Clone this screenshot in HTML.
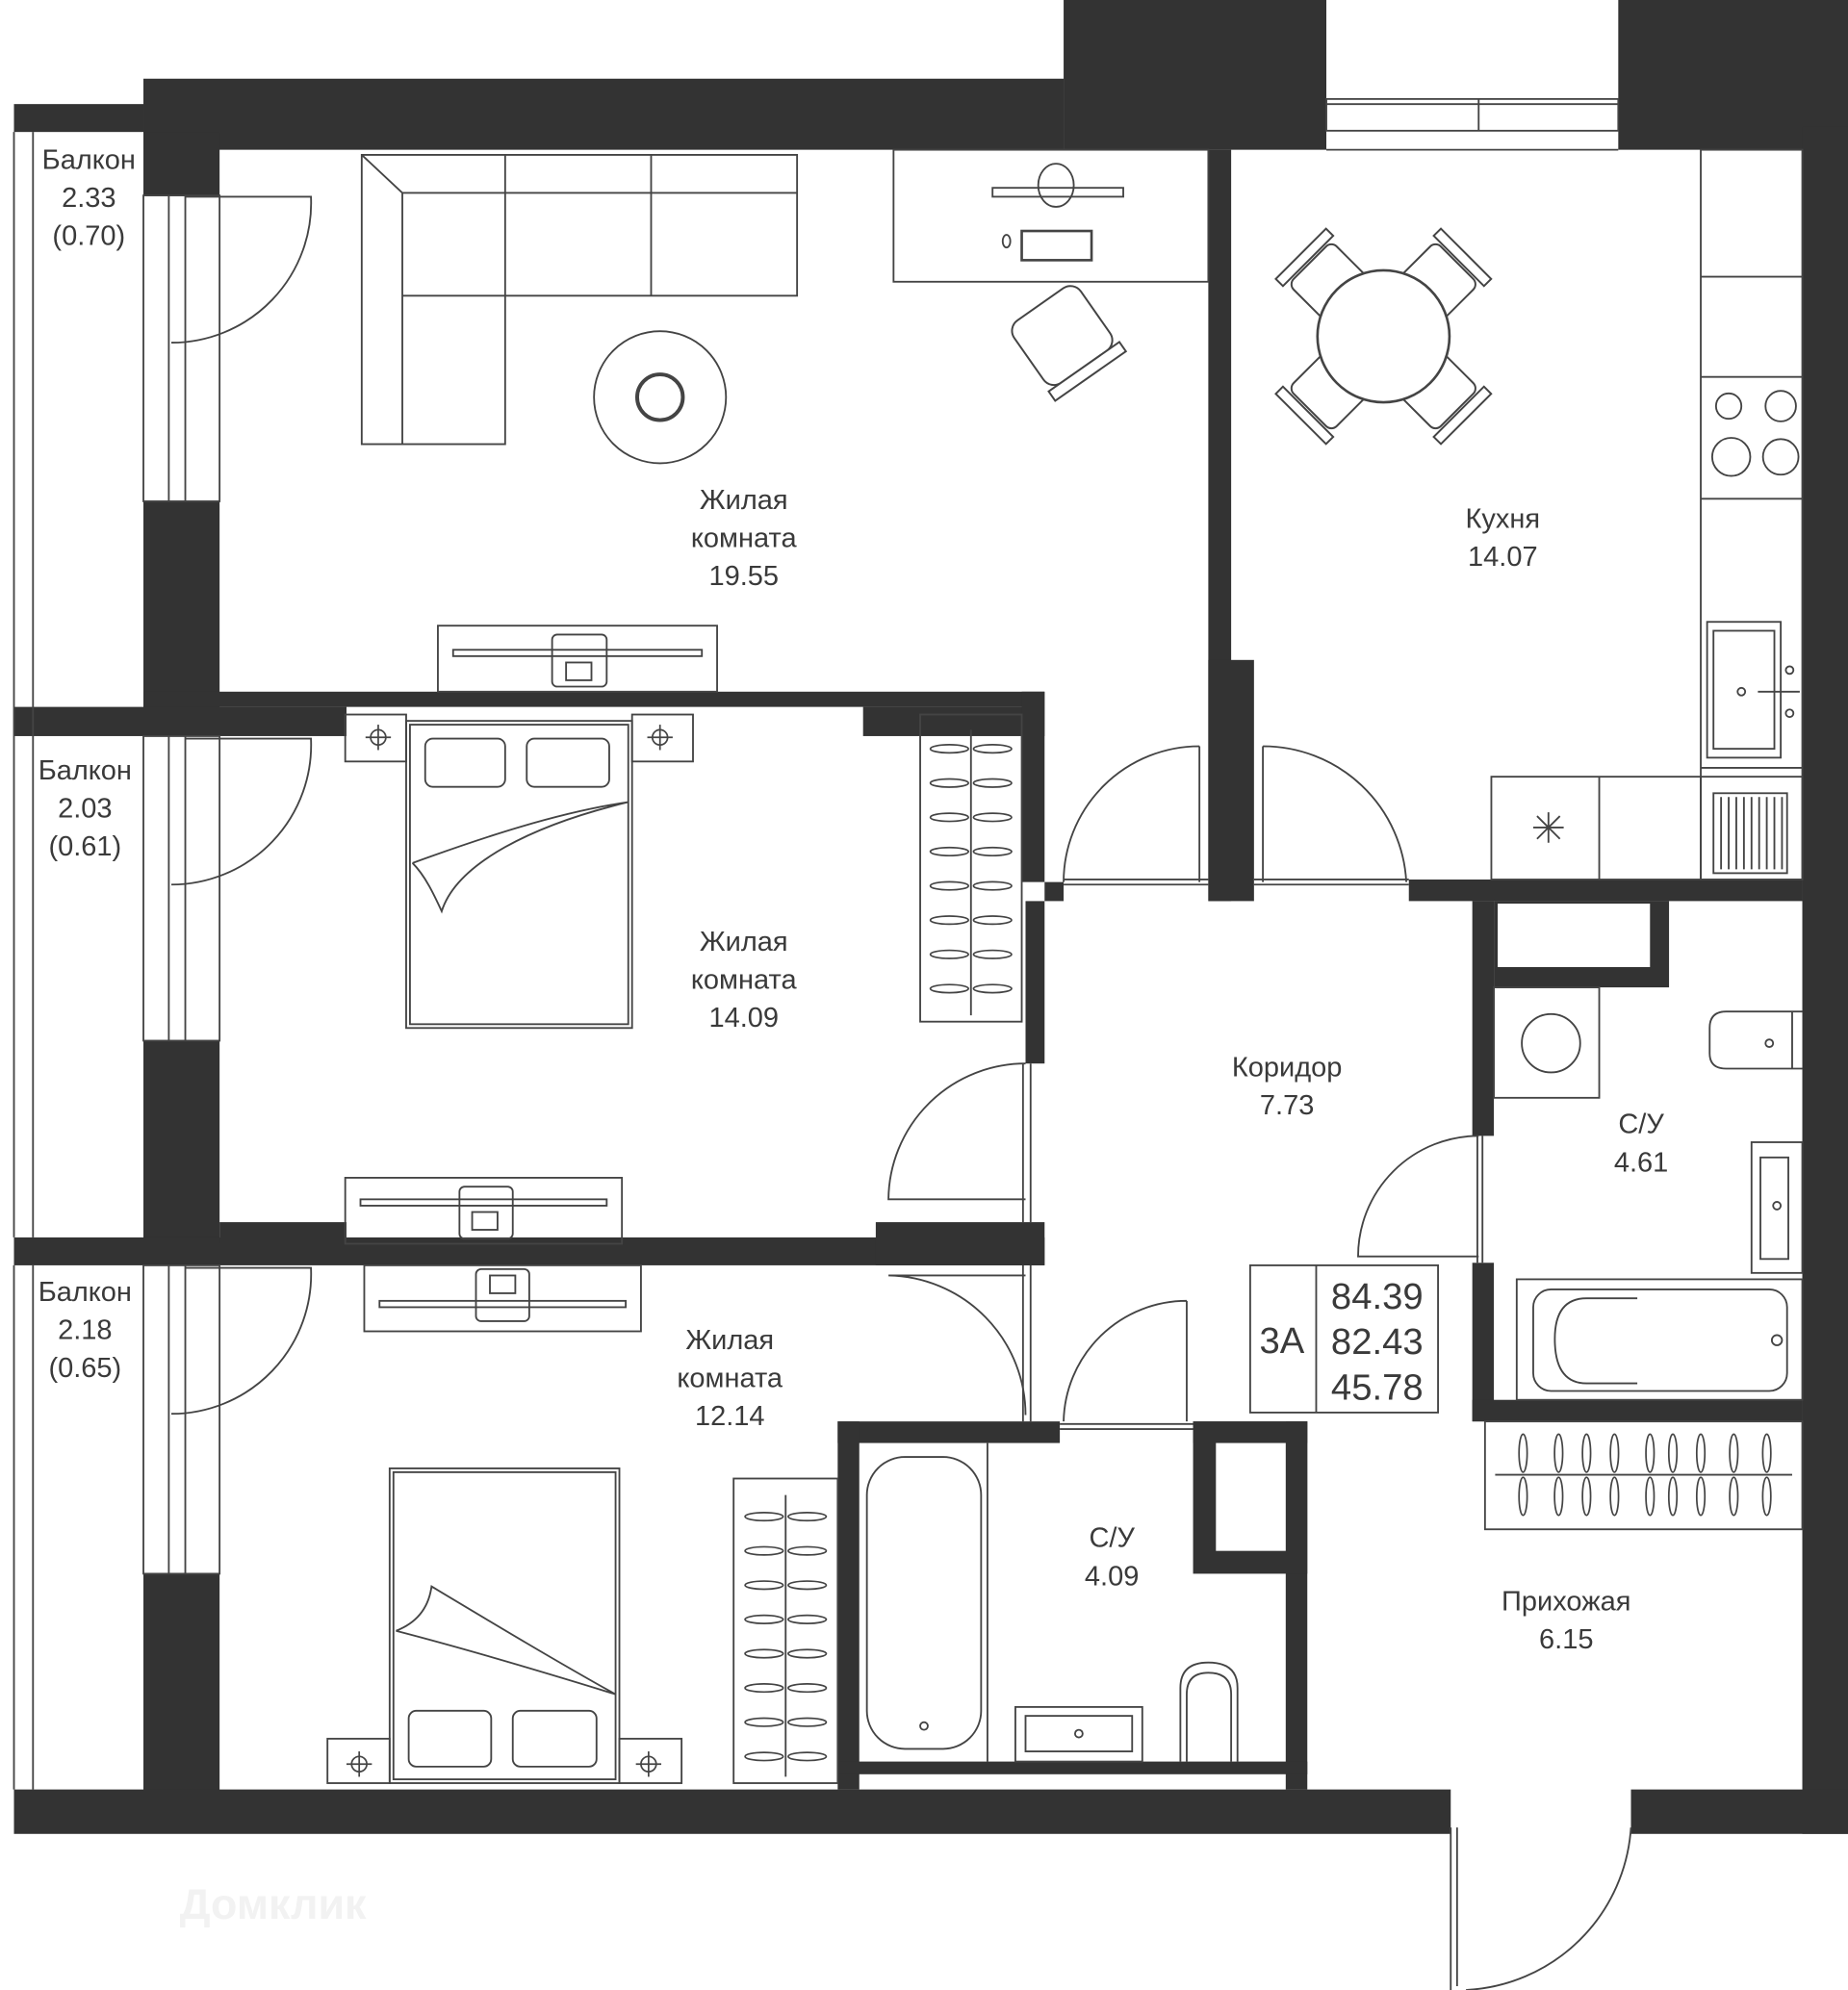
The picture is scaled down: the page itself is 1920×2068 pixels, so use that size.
<!DOCTYPE html>
<html><head><meta charset="utf-8"><style>
html,body{margin:0;padding:0;background:#fff}
svg{display:block}
text{font-family:"Liberation Sans",sans-serif;fill:#3a3a3a;text-anchor:middle}
</style></head><body>
<svg width="1920" height="2068" viewBox="0 0 1456 1568" preserveAspectRatio="none" xmlns="http://www.w3.org/2000/svg">
<defs>
<g id="hgv"><ellipse cx="-17" cy="0" rx="15" ry="3.2" fill="none" stroke="#444" stroke-width="1.3"/><ellipse cx="17" cy="0" rx="15" ry="3.2" fill="none" stroke="#444" stroke-width="1.3"/></g>
<g id="hgh"><ellipse cx="0" cy="-17" rx="3.2" ry="15" fill="none" stroke="#444" stroke-width="1.3"/><ellipse cx="0" cy="17" rx="3.2" ry="15" fill="none" stroke="#444" stroke-width="1.3"/></g>
<g id="cross"><circle r="6" fill="none" stroke="#444" stroke-width="1.3"/><line x1="-10" y1="0" x2="10" y2="0" stroke="#444" stroke-width="1.3"/><line x1="0" y1="-10" x2="0" y2="10" stroke="#444" stroke-width="1.3"/></g>
<g id="chair"><rect x="-24" y="-24" width="48" height="44" rx="6" fill="#fff" stroke="#444" stroke-width="1.5"/><rect x="-28" y="22" width="56" height="8" fill="#fff" stroke="#444" stroke-width="1.5"/></g>
<g id="bchair"><rect x="-32" y="-32" width="64" height="60" rx="10" fill="#fff" stroke="#444" stroke-width="1.5"/><rect x="-34" y="28" width="68" height="9" fill="#fff" stroke="#444" stroke-width="1.5"/></g>
</defs>
<rect width="1456" height="1568" fill="#fff"/>
<g fill="#333">
<rect x="113" y="62" width="725" height="56"/>
<rect x="838" y="0" width="207" height="118"/>
<rect x="1275" y="0" width="181" height="118"/>
<rect x="11" y="82" width="102" height="22"/>
<rect x="1420" y="100" width="36" height="1345"/>
<rect x="113" y="104" width="60" height="50"/>
<rect x="113" y="395" width="60" height="170"/>
<rect x="113" y="820" width="60" height="160"/>
<rect x="113" y="1240" width="60" height="180"/>
<rect x="11" y="557" width="262" height="23"/>
<rect x="11" y="975" width="812" height="22"/>
<rect x="11" y="1410" width="1132" height="35"/>
<rect x="1285" y="1410" width="171" height="35"/>
<rect x="113" y="545" width="710" height="12"/>
<rect x="680" y="557" width="143" height="23"/>
<rect x="805" y="545" width="18" height="150"/>
<rect x="823" y="695" width="15" height="15"/>
<rect x="808" y="710" width="15" height="128"/>
<rect x="173" y="963" width="100" height="17"/>
<rect x="690" y="963" width="133" height="34"/>
<rect x="952" y="118" width="18" height="592"/>
<rect x="952" y="520" width="36" height="190"/>
<rect x="1110" y="693" width="310" height="17"/>
<rect x="1160" y="710" width="17" height="185"/>
<rect x="1160" y="995" width="17" height="125"/>
<rect x="1177" y="710" width="138" height="68"/>
<rect x="1160" y="1103" width="260" height="17"/>
<rect x="660" y="1120" width="175" height="17"/>
<rect x="940" y="1120" width="90" height="17"/>
<rect x="660" y="1120" width="17" height="290"/>
<rect x="1013" y="1120" width="17" height="290"/>
<rect x="940" y="1120" width="90" height="120"/>
<rect x="660" y="1388" width="370" height="10"/>
</g>
<g fill="#fff">
<rect x="1180" y="712" width="120" height="50"/>
<rect x="958" y="1137" width="55" height="85"/>
</g>
<g fill="none" stroke="#444" stroke-width="1.4">
<line x1="11" y1="104" x2="11" y2="975"/><line x1="26" y1="104" x2="26" y2="975"/>
<line x1="11" y1="997" x2="11" y2="1410"/><line x1="26" y1="997" x2="26" y2="1410"/>
<rect x="113" y="154" width="60" height="241"/><line x1="133" y1="154" x2="133" y2="395"/><line x1="146" y1="154" x2="146" y2="395"/>
<rect x="113" y="580" width="60" height="240"/><line x1="133" y1="580" x2="133" y2="820"/><line x1="146" y1="580" x2="146" y2="820"/>
<rect x="113" y="997" width="60" height="243"/><line x1="133" y1="997" x2="133" y2="1240"/><line x1="146" y1="997" x2="146" y2="1240"/>
<rect x="1045" y="78" width="230" height="25"/><line x1="1045" y1="82" x2="1275" y2="82"/><line x1="1165" y1="78" x2="1165" y2="103"/><line x1="1045" y1="118" x2="1275" y2="118"/>
<path d="M146 155 H245 A110 110 0 0 1 135 270"/>
<path d="M146 582 H245 A110 110 0 0 1 135 697"/>
<path d="M146 999 H245 A110 110 0 0 1 135 1114"/>
<path d="M945 588 V695 M945 588 A107 107 0 0 0 838 695"/><line x1="838" y1="693" x2="952" y2="693"/><line x1="838" y1="697" x2="952" y2="697"/>
<path d="M995 588 V695 M995 588 A113 113 0 0 1 1108 695"/><line x1="988" y1="693" x2="1110" y2="693"/><line x1="988" y1="697" x2="1110" y2="697"/>
<path d="M808 838 A108 108 0 0 0 700 945 H808"/><line x1="806" y1="838" x2="806" y2="963"/><line x1="812" y1="838" x2="812" y2="963"/>
<path d="M700 1005 A110 110 0 0 1 808 1115 M700 1005 H808"/><line x1="806" y1="997" x2="806" y2="1120"/><line x1="812" y1="997" x2="812" y2="1120"/>
<path d="M935 1025 V1120 M935 1025 A97 97 0 0 0 838 1120"/><line x1="835" y1="1122" x2="940" y2="1122"/><line x1="835" y1="1126" x2="940" y2="1126"/>
<path d="M1165 895 A95 95 0 0 0 1070 990 H1165"/><line x1="1164" y1="895" x2="1164" y2="995"/><line x1="1168" y1="895" x2="1168" y2="995"/>
<path d="M1148 1440 V1565 M1285 1440 A137 137 0 0 1 1155 1568"/><line x1="1143" y1="1440" x2="1143" y2="1568"/>
<path d="M285 122 H628 V233 H398 V350 H285 Z"/>
<path d="M317 152 H628 M317 152 V350 M285 122 L317 152 M317 233 H398 M398 122 V233 M513 122 V233"/>
<circle cx="520" cy="313" r="52"/><circle cx="520" cy="313" r="18" stroke-width="3"/>
<rect x="704" y="118" width="248" height="104"/>
<ellipse cx="832" cy="146" rx="14" ry="17"/><rect x="782" y="148" width="103" height="7"/>
<rect x="805" y="182" width="55" height="23" stroke-width="2"/><ellipse cx="793" cy="190" rx="3" ry="5"/>
<g transform="translate(838 266) rotate(-35)"><use href="#bchair"/></g>
<rect x="345" y="493" width="220" height="52"/><rect x="357" y="512" width="196" height="5"/><rect x="435" y="500" width="43" height="41" rx="4"/><rect x="446" y="522" width="20" height="14"/>
<g transform="translate(1090 265)">
<g transform="rotate(-45) translate(0 -62)"><use href="#chair" transform="rotate(180)"/></g>
<g transform="rotate(45) translate(0 -62)"><use href="#chair" transform="rotate(180)"/></g>
<g transform="rotate(135) translate(0 -62)"><use href="#chair" transform="rotate(180)"/></g>
<g transform="rotate(-135) translate(0 -62)"><use href="#chair" transform="rotate(180)"/></g>
<circle r="52" fill="#fff" stroke-width="2"/></g>
<rect x="1340" y="118" width="80" height="575"/>
<line x1="1340" y1="218" x2="1420" y2="218"/><line x1="1340" y1="297" x2="1420" y2="297"/><line x1="1340" y1="393" x2="1420" y2="393"/><line x1="1340" y1="605" x2="1420" y2="605"/>
<circle cx="1362" cy="320" r="10"/><circle cx="1403" cy="320" r="12"/><circle cx="1364" cy="360" r="15"/><circle cx="1403" cy="360" r="14"/>
<rect x="1345" y="490" width="58" height="107"/><rect x="1350" y="497" width="48" height="93"/><line x1="1385" y1="545" x2="1418" y2="545"/><circle cx="1372" cy="545" r="3"/><circle cx="1410" cy="528" r="3"/><circle cx="1410" cy="562" r="3"/>
<rect x="1175" y="612" width="245" height="81"/><line x1="1260" y1="612" x2="1260" y2="693"/><line x1="1340" y1="612" x2="1340" y2="693"/>
<path d="M1220 640 V664 M1208 652 H1232 M1211 643 L1229 661 M1229 643 L1211 661"/>
<rect x="1350" y="625" width="58" height="63"/>
<path d="M1356 628 V685 M1362 628 V685 M1368 628 V685 M1374 628 V685 M1380 628 V685 M1386 628 V685 M1392 628 V685 M1398 628 V685 M1404 628 V685"/>
<rect x="320" y="568" width="178" height="242"/><rect x="323" y="571" width="172" height="236"/>
<rect x="335" y="582" width="63" height="38" rx="6"/><rect x="415" y="582" width="65" height="38" rx="6"/>
<path d="M325 680 C380 660 440 640 495 632 M325 680 C335 690 342 705 348 718 C360 680 420 650 495 632"/>
<rect x="272" y="563" width="48" height="37"/><rect x="498" y="563" width="48" height="37"/>
<rect x="725" y="563" width="80" height="242"/><line x1="765" y1="575" x2="765" y2="800"/>
<rect x="272" y="928" width="218" height="52"/><rect x="284" y="945" width="194" height="5"/><rect x="362" y="935" width="42" height="41" rx="4"/><rect x="372" y="955" width="20" height="14"/>
<rect x="287" y="997" width="218" height="52"/><rect x="299" y="1025" width="194" height="5"/><rect x="375" y="1000" width="42" height="41" rx="4"/><rect x="386" y="1005" width="20" height="14"/>
<rect x="307" y="1157" width="181" height="248"/><rect x="310" y="1160" width="175" height="242"/>
<rect x="322" y="1348" width="65" height="44" rx="6"/><rect x="404" y="1348" width="66" height="44" rx="6"/>
<path d="M312 1285 C330 1278 338 1265 340 1250 C390 1280 440 1310 485 1335 M312 1285 C370 1300 430 1318 485 1335"/>
<rect x="258" y="1370" width="49" height="35"/><rect x="488" y="1370" width="49" height="35"/>
<rect x="578" y="1165" width="82" height="240"/><line x1="619" y1="1178" x2="619" y2="1400"/>
<line x1="778" y1="1137" x2="778" y2="1388"/>
<rect x="683" y="1148" width="90" height="230" rx="30"/><circle cx="728" cy="1360" r="3"/>
<rect x="800" y="1345" width="100" height="43"/><rect x="808" y="1352" width="84" height="28"/><circle cx="850" cy="1366" r="3"/>
<path d="M930 1388 V1330 Q930 1310 952 1310 Q975 1310 975 1330 V1388 M935 1388 V1335 Q935 1318 952 1318 Q970 1318 970 1335 V1388"/>
<rect x="1177" y="778" width="83" height="87"/><circle cx="1222" cy="822" r="23"/>
<path d="M1420 797 H1360 Q1347 797 1347 810 V830 Q1347 842 1360 842 H1420 M1412 797 V842"/><circle cx="1394" cy="822" r="3"/>
<rect x="1380" y="900" width="40" height="103"/><rect x="1387" y="912" width="22" height="80"/><circle cx="1400" cy="950" r="3"/>
<rect x="1195" y="1008" width="225" height="95"/><rect x="1208" y="1016" width="200" height="80" rx="14"/><path d="M1290 1023 H1250 Q1225 1023 1225 1055 Q1225 1090 1250 1090 H1290"/><circle cx="1400" cy="1056" r="4"/>
<rect x="1170" y="1120" width="250" height="85"/><line x1="1178" y1="1162" x2="1412" y2="1162"/>
<rect x="985" y="997" width="148" height="116"/><line x1="1037" y1="997" x2="1037" y2="1113"/>
</g>
<g>
<use href="#hgv" x="765" y="590"/><use href="#hgv" x="765" y="617"/><use href="#hgv" x="765" y="644"/><use href="#hgv" x="765" y="671"/><use href="#hgv" x="765" y="698"/><use href="#hgv" x="765" y="725"/><use href="#hgv" x="765" y="752"/><use href="#hgv" x="765" y="779"/>
<use href="#hgv" x="619" y="1195"/><use href="#hgv" x="619" y="1222"/><use href="#hgv" x="619" y="1249"/><use href="#hgv" x="619" y="1276"/><use href="#hgv" x="619" y="1303"/><use href="#hgv" x="619" y="1330"/><use href="#hgv" x="619" y="1357"/><use href="#hgv" x="619" y="1384"/>
<use href="#hgh" x="1200" y="1162"/><use href="#hgh" x="1228" y="1162"/><use href="#hgh" x="1250" y="1162"/><use href="#hgh" x="1272" y="1162"/><use href="#hgh" x="1300" y="1162"/><use href="#hgh" x="1318" y="1162"/><use href="#hgh" x="1340" y="1162"/><use href="#hgh" x="1366" y="1162"/><use href="#hgh" x="1392" y="1162"/>
<use href="#cross" x="298" y="581"/><use href="#cross" x="520" y="581"/><use href="#cross" x="283" y="1390"/><use href="#cross" x="511" y="1390"/>
</g>
<g font-size="22">
<text x="70" y="133">Балкон</text><text x="70" y="163">2.33</text><text x="70" y="193">(0.70)</text>
<text x="67" y="614">Балкон</text><text x="67" y="644">2.03</text><text x="67" y="674">(0.61)</text>
<text x="67" y="1025">Балкон</text><text x="67" y="1055">2.18</text><text x="67" y="1085">(0.65)</text>
<text x="586" y="401">Жилая</text><text x="586" y="431">комната</text><text x="586" y="461">19.55</text>
<text x="586" y="749">Жилая</text><text x="586" y="779">комната</text><text x="586" y="809">14.09</text>
<text x="575" y="1063">Жилая</text><text x="575" y="1093">комната</text><text x="575" y="1123">12.14</text>
<text x="1184" y="416">Кухня</text><text x="1184" y="446">14.07</text>
<text x="1014" y="848">Коридор</text><text x="1014" y="878">7.73</text>
<text x="1293" y="893">С/У</text><text x="1293" y="923">4.61</text>
<text x="876" y="1219">С/У</text><text x="876" y="1249">4.09</text>
<text x="1234" y="1269">Прихожая</text><text x="1234" y="1299">6.15</text>
</g>
<g font-size="29">
<text x="1010" y="1066">3А</text>
<text x="1085" y="1031">84.39</text><text x="1085" y="1067">82.43</text><text x="1085" y="1103">45.78</text>
</g>
<text x="215" y="1512" font-size="34" style="fill:#f2f2f2" font-weight="bold">Домклик</text>
</svg>
</body></html>
